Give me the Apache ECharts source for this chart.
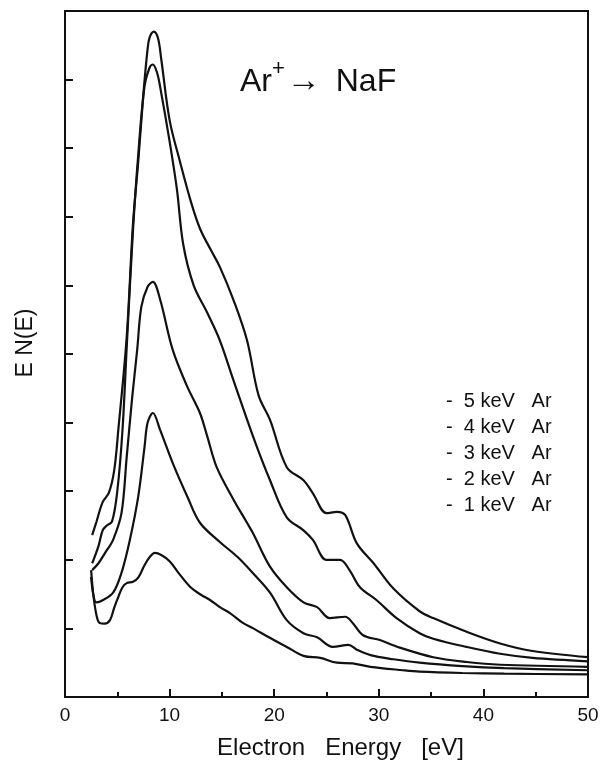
<!DOCTYPE html>
<html>
<head>
<meta charset="utf-8">
<script src="https://cdn.jsdelivr.net/npm/echarts@6/dist/echarts.min.js"></script>
<style>
  html, body { margin: 0; padding: 0; background: #fff; }
  #main { width: 605px; height: 762px; }
</style>
</head>
<body>
<div id="main"></div>
<script>
// energies (eV) and E N(E) values, one pair of arrays per curve
var e5 = [2.6, 3.0, 3.6, 4.2, 4.7, 5.1, 5.9, 6.5, 7.0, 7.5, 7.9, 8.1, 8.5, 8.9, 9.2, 10.0, 11.0, 12.0, 12.9, 14.0, 14.8, 16.1, 17.4, 18.5, 19.6, 21.2, 22.8, 23.7, 25.0, 26.0, 26.8, 27.9, 29.5, 31.4, 33.9, 35.2, 38.4, 41.6, 44.7, 50];
var n5 = [2.36, 2.55, 2.84, 2.98, 3.3, 3.9, 5.25, 6.9, 7.8, 8.8, 9.45, 9.62, 9.7, 9.6, 9.3, 8.41, 7.8, 7.24, 6.83, 6.5, 6.27, 5.79, 5.2, 4.4, 4.04, 3.35, 3.16, 2.97, 2.68, 2.7, 2.65, 2.24, 1.95, 1.58, 1.25, 1.15, 0.95, 0.78, 0.67, 0.58];

var e4 = [2.6, 3.2, 3.6, 4.0, 4.5, 5.0, 5.5, 5.9, 6.5, 7.0, 7.6, 8.1, 8.4, 8.8, 9.1, 10.0, 10.7, 11.3, 12.3, 13.6, 14.8, 16.1, 18.0, 19.6, 21.2, 22.8, 23.7, 25.0, 26.3, 27.2, 28.2, 29.8, 31.7, 33.9, 35.2, 38.4, 41.6, 44.7, 50];
var n4 = [1.95, 2.2, 2.43, 2.5, 2.56, 3.0, 3.9, 5.1, 6.8, 7.9, 8.9, 9.18, 9.22, 9.1, 8.89, 8.1, 7.4, 6.6, 6.0, 5.6, 5.2, 4.62, 3.79, 3.16, 2.62, 2.43, 2.29, 2.0, 2.0, 1.85, 1.6, 1.41, 1.15, 0.93, 0.85, 0.73, 0.63, 0.57, 0.52];

var e3 = [2.6, 3.2, 4.0, 4.6, 5.4, 5.9, 6.4, 6.9, 7.3, 7.9, 8.4, 9.1, 10.3, 11.7, 12.9, 13.6, 14.5, 16.1, 17.4, 18.0, 19.6, 21.2, 22.8, 24.1, 25.3, 26.8, 27.5, 28.5, 30.1, 32.0, 35.2, 38.4, 41.6, 50];
var n3 = [1.85, 1.95, 2.14, 2.29, 2.68, 3.5, 4.33, 5.06, 5.69, 5.98, 6.05, 5.79, 5.06, 4.52, 4.14, 3.8, 3.35, 2.88, 2.54, 2.38, 1.9, 1.6, 1.38, 1.31, 1.15, 1.17, 1.08, 0.9, 0.83, 0.72, 0.58, 0.51, 0.47, 0.44];

var e2 = [2.5, 2.7, 3.0, 3.6, 4.6, 5.4, 6.2, 7.0, 7.6, 7.9, 8.4, 9.1, 10.3, 11.7, 12.9, 14.8, 16.5, 18.0, 19.6, 21.2, 22.8, 24.1, 25.6, 27.1, 27.9, 29.2, 31.4, 33.9, 38.0, 42.0, 50];
var n2 = [1.75, 1.5, 1.38, 1.41, 1.52, 1.81, 2.29, 2.92, 3.64, 4.0, 4.14, 3.89, 3.41, 2.92, 2.54, 2.26, 2.04, 1.8, 1.52, 1.12, 0.93, 0.87, 0.73, 0.76, 0.69, 0.61, 0.55, 0.5, 0.45, 0.42, 0.39];

var e1 = [2.5, 2.7, 3.0, 3.3, 3.8, 4.3, 4.7, 5.1, 5.5, 5.9, 6.5, 7.0, 7.6, 8.1, 8.6, 9.2, 10.0, 11.0, 12.0, 13.0, 13.9, 14.8, 15.8, 17.0, 18.0, 19.5, 21.2, 22.8, 24.4, 26.0, 27.5, 29.2, 32.3, 33.9, 38.0, 42.0, 50];
var n1 = [1.85, 1.5, 1.2, 1.08, 1.07, 1.12, 1.3, 1.46, 1.6, 1.66, 1.68, 1.74, 1.92, 2.04, 2.1, 2.07, 1.98, 1.78, 1.6, 1.49, 1.41, 1.31, 1.22, 1.08, 1.0, 0.87, 0.73, 0.6, 0.57, 0.5, 0.49, 0.44, 0.39, 0.37, 0.35, 0.34, 0.33];

var seriesNames = ['5 keV   Ar', '4 keV   Ar', '3 keV   Ar', '2 keV   Ar', '1 keV   Ar'];
var energies = [e5, e4, e3, e2, e1];
var values = [n5, n4, n3, n2, n1];

function pairs(xs, ys) {
    var out = [];
    for (var i = 0; i < xs.length; i++) out.push([xs[i], ys[i]]);
    return out;
}

var series = [];
for (var k = 0; k < seriesNames.length; k++) {
    series.push({
        name: seriesNames[k],
        type: 'line',
        smooth: 0.35,
        symbol: 'none',
        lineStyle: { color: '#111', width: 2.2 },
        data: pairs(energies[k], values[k])
    });
}

var option = {
    animation: false,
    backgroundColor: '#fff',
    textStyle: { fontFamily: 'Liberation Sans, Arial, sans-serif', color: '#111' },
    title: {
        text: 'Ar{sup|+}{arr|→} NaF',
        left: 240,
        top: 58,
        padding: 0,
        textStyle: {
            fontSize: 32,
            fontWeight: 'normal',
            color: '#111',
            rich: {
                sup: { fontSize: 22, verticalAlign: 'bottom', padding: [0, 0, 26, 0], color: '#111' },
                arr: { fontSize: 34, color: '#111', padding: [0, 6, 0, 2] }
            }
        }
    },
    legend: {
        orient: 'vertical',
        left: 441,
        top: 391,
        padding: 0,
        icon: 'none',
        itemWidth: 0,
        itemHeight: 18,
        itemGap: 6,
        selectedMode: false,
        formatter: '-  {name}',
        textStyle: { fontSize: 20, color: '#111' },
        data: seriesNames
    },
    grid: {
        left: 65,
        right: 17,
        top: 11,
        bottom: 65,
        show: true,
        borderColor: '#111',
        borderWidth: 2,
        outerBoundsMode: 'none'
    },
    xAxis: {
        type: 'value',
        min: 0,
        max: 50,
        interval: 10,
        name: 'Electron   Energy   [eV]',
        nameLocation: 'middle',
        nameGap: 39,
        nameTextStyle: { fontSize: 24, color: '#111', padding: [0, 0, 0, 28] },
        axisLine: { lineStyle: { color: '#111', width: 2 } },
        axisTick: { inside: true, length: 8, lineStyle: { color: '#111', width: 2 } },
        minorTick: { show: true, splitNumber: 2, length: 5, lineStyle: { color: '#111', width: 2 } },
        axisLabel: { fontSize: 19, color: '#111', margin: 9 },
        splitLine: { show: false }
    },
    yAxis: {
        type: 'value',
        min: 0,
        max: 10,
        interval: 1,
        name: 'E N(E)',
        nameLocation: 'middle',
        nameGap: 28,
        nameTextStyle: { fontSize: 23, color: '#111', padding: [0, 0, 0, 22] },
        axisLine: { lineStyle: { color: '#111', width: 2 } },
        axisTick: { inside: true, length: 8, lineStyle: { color: '#111', width: 2 } },
        axisLabel: { show: false },
        splitLine: { show: false }
    },
    series: series
};

var chart = echarts.init(document.getElementById('main'));
chart.setOption(option);
</script>
</body>
</html>
